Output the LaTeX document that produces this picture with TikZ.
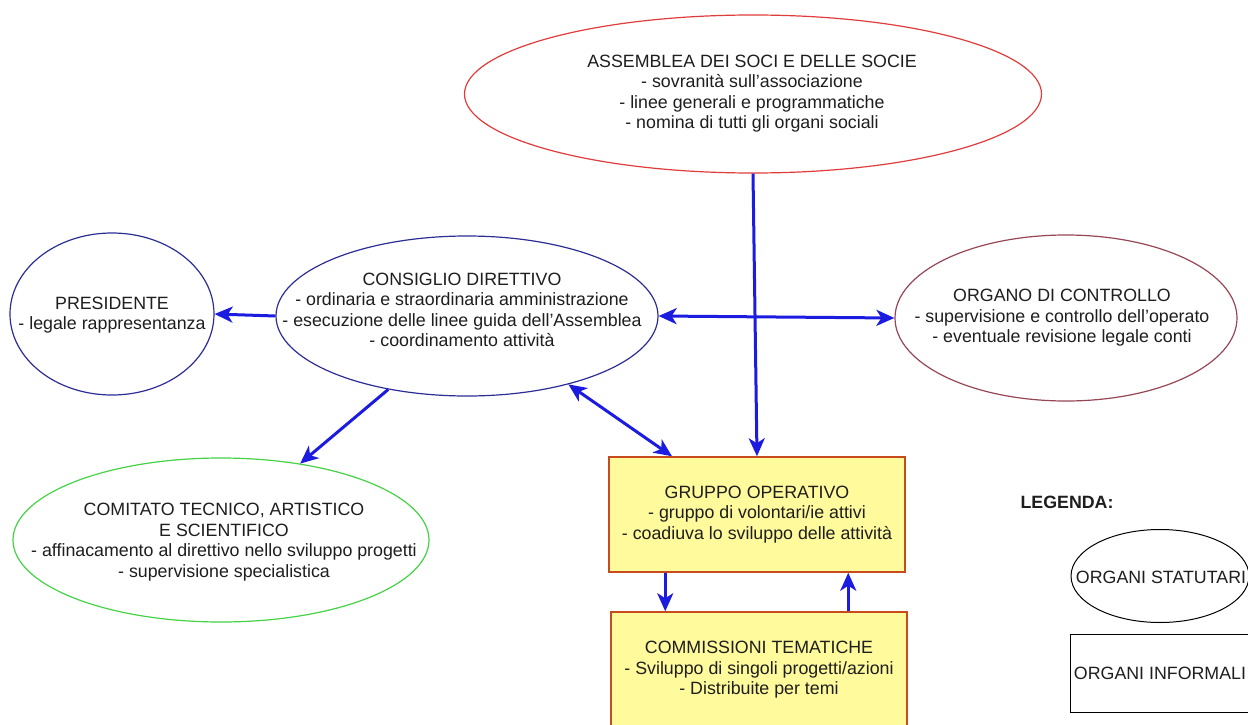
\documentclass[tikz,border=0pt]{standalone}
\usepackage{fontspec}
\setmainfont{Liberation Sans}
\usetikzlibrary{shapes.geometric,arrows.meta}
\definecolor{arrblue}{RGB}{28,28,225}
\definecolor{asmred}{RGB}{225,60,60}
\definecolor{navyc}{RGB}{45,45,150}
\definecolor{maroonc}{RGB}{150,70,85}
\definecolor{grnc}{RGB}{70,210,70}
\definecolor{boxfill}{RGB}{255,250,155}
\definecolor{boxdraw}{RGB}{200,75,30}
\definecolor{txtc}{RGB}{30,30,30}
\tikzset{
  ell/.style={ellipse, draw, line width=1.2pt, inner sep=0pt},
  boxnode/.style={rectangle, draw=boxdraw, fill=boxfill, line width=1.5pt, inner sep=0pt, align=center, text=txtc, font=\fontsize{17.8}{20.5}\selectfont},
  lbl/.style={align=center, inner sep=0pt, text=txtc, font=\fontsize{17.8}{20.5}\selectfont},
  arr/.style={draw=arrblue, line width=3pt, -{Stealth[length=18pt,width=16pt,inset=5pt]}},
  darr/.style={draw=arrblue, line width=3pt, {Stealth[length=18pt,width=16pt,inset=5pt]}-{Stealth[length=18pt,width=16pt,inset=5pt]}},
}
\begin{document}
\begin{tikzpicture}[x=1pt,y=-1pt]
\useasboundingbox (0,0) rectangle (1248,725);
\fill[white] (0,0) rectangle (1248,725);

% statutory organs
\node[ell, draw=asmred, minimum width=577pt, minimum height=158pt] (asm) at (753,94) {};
\node[lbl] (asmT) at (752,93.5) {ASSEMBLEA DEI SOCI E DELLE SOCIE\\- sovranità sull'associazione\\- linee generali e programmatiche\\- nomina di tutti gli organi sociali};

\node[ell, draw=navyc, minimum width=382pt, minimum height=160pt] (cons) at (467,316) {};
\node[lbl] (consT) at (462,310) {CONSIGLIO DIRETTIVO\\- ordinaria e straordinaria amministrazione\\- esecuzione delle linee guida dell'Assemblea\\- coordinamento attività};

\node[ell, draw=navyc, minimum width=204pt, minimum height=162pt] (pres) at (112,314) {};
\node[lbl] (presT) at (112,315) {PRESIDENTE\\- legale rappresentanza};

\node[ell, draw=maroonc, minimum width=342pt, minimum height=166pt] (org) at (1066,318) {};
\node[lbl] (orgT) at (1062,318) {ORGANO DI CONTROLLO\\- supervisione e controllo dell'operato\\- eventuale revisione legale conti};

\node[ell, draw=grnc, minimum width=416pt, minimum height=164pt] (com) at (221,540) {};
\node[lbl] (comT) at (224,542) {COMITATO TECNICO, ARTISTICO\\E SCIENTIFICO\\- affinacamento al direttivo nello sviluppo progetti\\- supervisione specialistica};

% informal organs
\node[boxnode, minimum width=296pt, minimum height=115pt] (grp) at (757,514.5) {GRUPPO OPERATIVO\\- gruppo di volontari/ie attivi\\- coadiuva lo sviluppo delle attività};
\node[boxnode, minimum width=296pt, minimum height=116pt] (cmt) at (759,670) {COMMISSIONI TEMATICHE\\- Sviluppo di singoli progetti/azioni\\- Distribuite per temi};

% legend
\node[lbl, font=\fontsize{17.8}{20.5}\selectfont\bfseries] (leg) at (1067,502) {LEGENDA:};
\node[ell, draw=black, line width=1pt, minimum width=178pt, minimum height=93pt] (legE) at (1160,576) {};
\node[lbl] (legET) at (1161,577) {ORGANI STATUTARI};
\node[rectangle, draw=black, line width=1pt, minimum width=182pt, minimum height=78pt, inner sep=0pt] (legR) at (1161,673) {};
\node[lbl] (legRT) at (1160,673) {ORGANI INFORMALI};

% connectors
\draw[arr] (asm.south) -- (grp.north);
\draw[darr] (cons.east) -- (org.west);
\draw[arr] (cons.west) -- (pres.east);
\draw[arr] (cons.223) -- (com.44);
\draw[darr] (cons.326) -- ([xshift=-85pt]grp.north);
\draw[arr] ([xshift=57pt]grp.south west) -- ([xshift=57pt]grp.south west |- cmt.north);
\draw[arr] ([xshift=238pt]cmt.north west) -- ([xshift=238pt]cmt.north west |- grp.south);
\end{tikzpicture}
\end{document}
